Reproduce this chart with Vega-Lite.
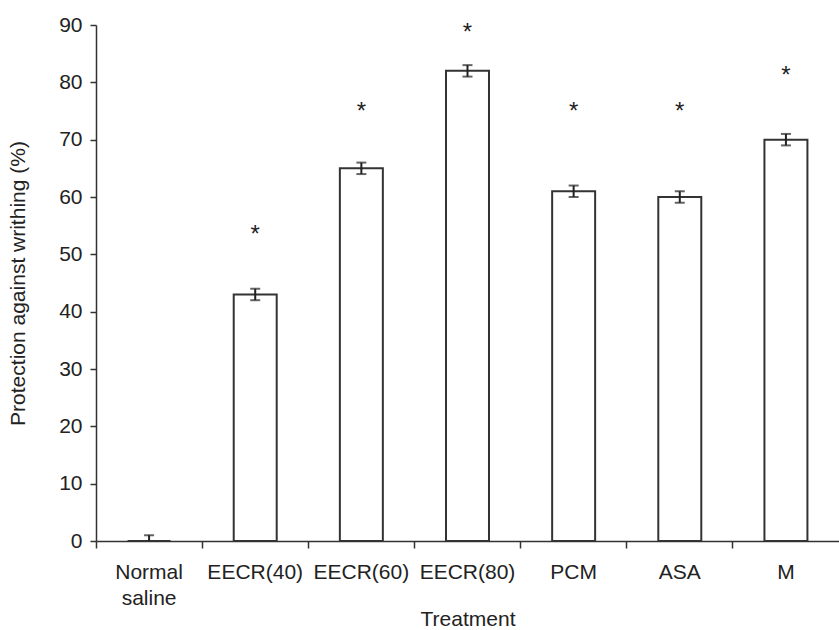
{
  "$schema": "https://vega.github.io/schema/vega-lite/v6.json",
  "autosize": "none",
  "width": 743,
  "height": 516,
  "padding": {"left": 96, "top": 25, "right": 0, "bottom": 89},
  "background": "white",
  "config": {
    "font": "Liberation Sans",
    "view": {"stroke": null},
    "axis": {"domainColor": "#333", "tickColor": "#333", "labelColor": "#222", "titleColor": "#222", "grid": false, "labelFontSize": 21, "titleFontSize": 21, "titleFontWeight": "normal", "domainWidth": 1.5, "tickWidth": 1.5}
  },
  "data": {"values": [
    {"treatment": "Normal saline", "value": 0, "lo": 0, "hi": 1, "sig": null},
    {"treatment": "EECR(40)", "value": 43, "lo": 42, "hi": 44, "sig": 54.4},
    {"treatment": "EECR(60)", "value": 65, "lo": 64, "hi": 66, "sig": 75.9},
    {"treatment": "EECR(80)", "value": 82, "lo": 81, "hi": 83, "sig": 89.6},
    {"treatment": "PCM", "value": 61, "lo": 60, "hi": 62, "sig": 75.9},
    {"treatment": "ASA", "value": 60, "lo": 59, "hi": 61, "sig": 75.9},
    {"treatment": "M", "value": 70, "lo": 69, "hi": 71, "sig": 82.2}
  ]},
  "encoding": {
    "x": {"field": "treatment", "type": "nominal", "sort": null,
      "scale": {"paddingInner": 0, "paddingOuter": 0},
      "axis": {"title": "Treatment", "labelAngle": 0, "bandPosition": 0, "tickSize": 7, "labelPadding": 13, "titlePadding": 0, "labelLineHeight": 26, "labelBaseline": "top",
        "labelExpr": "datum.label == 'Normal saline' ? ['Normal', 'saline'] : datum.label"}}
  },
  "layer": [
    {"mark": {"type": "bar", "fill": "white", "stroke": "#333", "strokeWidth": 2, "width": {"band": 0.405}},
     "encoding": {"y": {"field": "value", "type": "quantitative",
        "scale": {"domain": [0, 90], "nice": false},
        "axis": {"title": "Protection against writhing (%)", "values": [0,10,20,30,40,50,60,70,80,90], "tickSize": 6, "labelPadding": 8, "titlePadding": 30}}}},
    {"mark": {"type": "rule", "stroke": "#222", "strokeWidth": 2},
     "encoding": {"y": {"field": "lo", "type": "quantitative"}, "y2": {"field": "hi"}}},
    {"mark": {"type": "tick", "color": "#222", "thickness": 2, "size": 10},
     "encoding": {"y": {"field": "hi", "type": "quantitative"}}},
    {"transform": [{"filter": "datum.value > 0"}],
     "mark": {"type": "tick", "color": "#222", "thickness": 2, "size": 10},
     "encoding": {"y": {"field": "lo", "type": "quantitative"}}},
    {"transform": [{"filter": "datum.sig != null"}],
     "mark": {"type": "text", "text": "*", "fontSize": 24, "baseline": "middle", "dy": 6, "color": "#222"},
     "encoding": {"y": {"field": "sig", "type": "quantitative"}}}
  ]
}
